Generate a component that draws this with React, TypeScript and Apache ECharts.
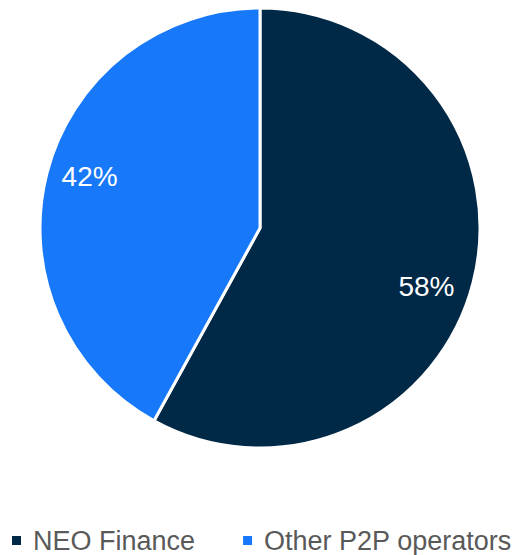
import React, { useEffect, useRef } from "react";
import * as echarts from "echarts";

const categories = ["NEO Finance", "Other P2P operators"];
const shares = [58, 42];
const colors = ["#002847", "#1778F9"];

export default function App() {
  const ref = useRef<HTMLDivElement>(null);
  useEffect(() => {
    document.body.style.margin = "0";
    const chart = echarts.init(ref.current!, null, { renderer: "svg" });
    const data = categories.map((name, i) => ({
      name,
      value: shares[i],
      itemStyle: { color: colors[i] },
    }));
    chart.setOption({
      animation: false,
      legend: {
        left: 10,
        top: 527,
        width: 514,
        padding: 0,
        itemWidth: 11,
        itemHeight: 11,
        itemGap: 46,
        icon: "rect",
        textStyle: {
          color: "#595959",
          fontSize: 27,
          fontFamily: "Liberation Sans",
          padding: [0, 0, 0, 6],
        },
        data: categories,
      },
      series: [
        {
          type: "pie",
          center: [260, 228],
          radius: [0, 220],
          startAngle: 90,
          clockwise: true,
          label: { show: false },
          labelLine: { show: false },
          itemStyle: { borderColor: "#ffffff", borderWidth: 3 },
          data,
        },
        {
          type: "pie",
          center: [260, 228],
          radius: [130, 220],
          startAngle: 90,
          clockwise: true,
          silent: true,
          legendHoverLink: false,
          itemStyle: { color: "transparent", borderWidth: 0 },
          emphasis: { disabled: true },
          label: {
            show: true,
            position: "inside",
            formatter: "{c}%",
            color: "#ffffff",
            fontSize: 28,
            fontFamily: "Liberation Sans",
          },
          labelLine: { show: false },
          data: categories.map((name, i) => ({
            name,
            value: shares[i],
            label: { offset: i === 0 ? [-6, 14] : [2, -7] },
          })),
        },
      ],
    });
    return () => chart.dispose();
  }, []);
  return <div ref={ref} style={{ width: 524, height: 555 }} />;
}
